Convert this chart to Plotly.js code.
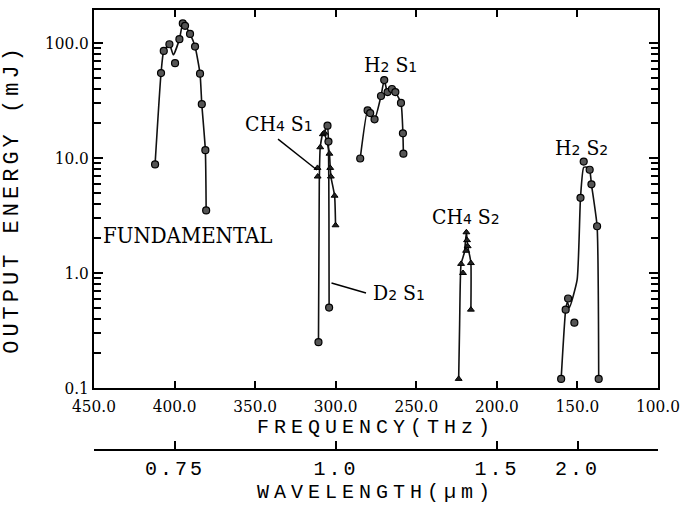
<!DOCTYPE html>
<html><head><meta charset="utf-8">
<script src="https://cdn.plot.ly/plotly-3.0.1.min.js"></script>
<style>
body{margin:0;background:#fff}
.xtitle,.x2title{letter-spacing:5px}
.ytitle{letter-spacing:4px}
.x2tick text{letter-spacing:3px}
</style></head>
<body><div id="plot" style="width:680px;height:507px"></div>
<script>
// ---- data (frequency in THz, output energy in mJ) ----
const fundCurveF = [412.1, 408.4, 406.7, 403.2, 400.8, 397.0, 394.9, 393.5, 390.4, 387.3, 384.2, 383.1, 380.9, 380.4];
const fundCurveE = [8.8, 54.8, 85.3, 97.5, 79, 108, 148, 141, 120, 93.1, 54.1, 29.4, 11.7, 3.5];
const fundDotF = [412.1, 408.4, 406.7, 403.2, 399.7, 397.0, 394.9, 393.5, 390.4, 387.3, 384.2, 383.1, 380.9, 380.4];
const fundDotE = [8.8, 54.8, 85.3, 97.5, 66.8, 108, 148, 141, 120, 93.1, 54.1, 29.4, 11.7, 3.5];

const ch4s1CurveF = [310.7, 310.2, 309.6, 308.0, 306.5, 305.0, 303.9, 303.4, 303.0, 300.7, 300.1];
const ch4s1CurveE = [0.25, 6, 12.4, 16.1, 15.5, 13, 10.9, 8.2, 6.9, 4.7, 2.6];
const ch4s1TriF = [311.3, 311.2, 309.6, 308.0, 307.0, 303.9, 303.4, 303.0, 300.7, 300.1];
const ch4s1TriE = [8.2, 6.9, 12.4, 16.1, 16.6, 10.9, 8.2, 6.9, 4.7, 2.6];
const ch4s1DotF = [310.7];
const ch4s1DotE = [0.25];

const d2s1CurveF = [307.5, 305.1, 304.5, 304.2, 304.1];
const d2s1CurveE = [16, 19.1, 13.9, 3, 0.5];
const d2s1DotF = [305.1, 304.5, 304.1];
const d2s1DotE = [19.1, 13.9, 0.5];

const h2s1F = [284.8, 280.2, 278.6, 275.9, 271.9, 269.9, 267.8, 265.1, 263.0, 259.5, 258.3, 258.0];
const h2s1E = [9.9, 25.9, 24.6, 21.7, 34.6, 47.6, 37.4, 39.8, 37.4, 30.1, 16.4, 10.9];

const ch4s2CurveF = [223.7, 223.1, 222.2, 220.2, 218.9, 218.1, 216.8, 216.1, 216.1];
const ch4s2CurveE = [0.12, 0.36, 1.2, 1.5, 2.26, 1.71, 1.4, 1.22, 0.48];
const ch4s2TriF = [218.9, 218.5, 218.1, 219.1, 222.2, 221.0, 216.1, 216.1, 223.7];
const ch4s2TriE = [2.26, 1.93, 1.71, 1.56, 1.2, 1.0, 1.22, 0.48, 0.12];

const h2s2CurveF = [160.1, 157.3, 156.2, 155.0, 150.2, 148.1, 146.1, 144.0, 142.4, 141.3, 137.8, 136.8];
const h2s2CurveE = [0.12, 0.48, 0.56, 0.5, 0.87, 4.5, 8.3, 8.3, 7.9, 5.9, 2.55, 0.12];
const h2s2DotF = [146.1, 142.4, 141.3, 148.1, 137.8, 155.8, 157.3, 151.9, 160.1, 136.8];
const h2s2DotE = [9.3, 7.9, 5.9, 4.5, 2.55, 0.60, 0.48, 0.37, 0.12, 0.12];

// ---- axis ticks ----
const freqTicks = [450, 400, 350, 300, 250, 200, 150, 100];
const freqTickText = ['450.0', '400.0', '350.0', '300.0', '250.0', '200.0', '150.0', '100.0'];
const energyTicks = [0.1, 1, 10, 100];
const energyTickText = ['0.1', '1.0', '10.0', '100.0'];
const energyMinor = [0.2,0.3,0.4,0.5,0.6,0.7,0.8,0.9,2,3,4,5,6,7,8,9,20,30,40,50,60,70,80,90];
const wavelengthTicks = [0.75, 1.0, 1.5, 2.0];
const wavelengthTickText = ['0.75', '1.0', '1.5', '2.0'];
const C_LIGHT = 299.792458; // THz·µm

const labelFont = 'DejaVu Serif Condensed, DejaVu Serif, serif';
const monoFont = 'Liberation Mono, DejaVu Sans Mono, monospace';

function curve(f, e) {
  return {x: f, y: e, type: 'scatter', mode: 'lines',
          line: {color: '#111', width: 1.6, shape: 'spline', smoothing: 0.5},
          hoverinfo: 'skip', showlegend: false};
}
function dots(f, e) {
  return {x: f, y: e, type: 'scatter', mode: 'markers',
          marker: {symbol: 'circle', size: 7, color: '#555', line: {color: '#000', width: 1.2}},
          showlegend: false};
}
function tris(f, e) {
  return {x: f, y: e, type: 'scatter', mode: 'markers',
          marker: {symbol: 'triangle-up', size: 6, color: '#222', line: {color: '#000', width: 1}},
          showlegend: false};
}

const wlTickVals = [450].concat(wavelengthTicks.map(w => C_LIGHT / w)).concat([100]);
const wlTickText = [''].concat(wavelengthTickText).concat(['']);

const traces = [
  curve(fundCurveF, fundCurveE), dots(fundDotF, fundDotE),
  curve(ch4s1CurveF, ch4s1CurveE), tris(ch4s1TriF, ch4s1TriE), dots(ch4s1DotF, ch4s1DotE),
  curve(d2s1CurveF, d2s1CurveE), dots(d2s1DotF, d2s1DotE),
  curve(h2s1F, h2s1E), dots(h2s1F, h2s1E),
  curve(ch4s2CurveF, ch4s2CurveE), tris(ch4s2TriF, ch4s2TriE),
  curve(h2s2CurveF, h2s2CurveE), dots(h2s2DotF, h2s2DotE),
  {x: [], y: [], xaxis: 'x2', yaxis: 'y', type: 'scatter', showlegend: false}
];

const sub = s => '<span style="font-family:DejaVu Sans;font-size:14px">' + s + '</span>';
function lab(text, x, ly, size) {
  return {text: text, x: x, y: ly, xref: 'x', yref: 'y', showarrow: false,
          xanchor: 'center', yanchor: 'middle', font: {family: labelFont, size: size || 21, color: '#000'}};
}
const annotations = [
  lab('FUNDAMENTAL', 392, 0.33, 22),
  lab('CH' + sub('4') + ' S' + sub('1'), 335.2, 1.296),
  lab('H' + sub('2') + ' S' + sub('1'), 266.3, 1.809),
  lab('CH' + sub('4') + ' S' + sub('2'), 219.1, 0.487),
  lab('H' + sub('2') + ' S' + sub('2'), 147.4, 1.087),
  lab('D' + sub('2') + ' S' + sub('1'), 260.7, -0.174)
];
// leader lines (shape y given in data units on the log axis)
const shapes = [
  {type: 'line', xref: 'x', yref: 'y', x0: 335.8, y0: 14.6, x1: 311.6, y1: 7.87, line: {color: '#000', width: 1.4}},
  {type: 'line', xref: 'x', yref: 'y', x0: 302.6, y0: 0.818, x1: 281.2, y1: 0.67, line: {color: '#000', width: 1.4}}
];

const layout = {
  width: 680, height: 507,
  margin: {l: 94, r: 22, t: 10, b: 2},
  paper_bgcolor: '#fff', plot_bgcolor: 'rgba(0,0,0,0)',
  showlegend: false,
  font: {family: labelFont, color: '#000'},
  xaxis: {
    range: [450, 100], anchor: 'y', showgrid: false, zeroline: false,
    showline: true, linecolor: '#000', linewidth: 1.6, mirror: 'ticks',
    ticks: 'inside', ticklen: 7, tickwidth: 2, tickcolor: '#000',
    tickmode: 'array', tickvals: freqTicks, ticktext: freqTickText,
    tickfont: {family: labelFont, size: 17, color: '#000'}, ticklabelstandoff: 2,
    title: {text: 'FREQUENCY(THz)', font: {family: monoFont, size: 20, color: '#000'}, standoff: 0}
  },
  xaxis2: {
    range: [450, 100], overlaying: 'x', anchor: 'free', position: 0.1111, side: 'bottom',
    showgrid: false, zeroline: false,
    showline: true, linecolor: '#000', linewidth: 1.6,
    ticks: 'inside', ticklen: 8, tickwidth: 2, tickcolor: '#000',
    tickmode: 'array', tickvals: wlTickVals, ticktext: wlTickText,
    tickfont: {family: monoFont, size: 20, color: '#000'},
    title: {text: 'WAVELENGTH(µm)', font: {family: monoFont, size: 20, color: '#000'}, standoff: 0}
  },
  yaxis: {
    type: 'log', range: [-1, 2.287], domain: [0.2364, 1],
    showgrid: false, zeroline: false,
    showline: true, linecolor: '#000', linewidth: 1.6, mirror: 'ticks',
    ticks: 'inside', ticklen: 9, tickwidth: 2, tickcolor: '#000',
    tickmode: 'array', tickvals: energyTicks, ticktext: energyTickText,
    tickfont: {family: labelFont, size: 17, color: '#000'},
    minor: {tickmode: 'array', tickvals: energyMinor, ticks: 'inside', ticklen: 7, tickwidth: 2, tickcolor: '#000', showgrid: false},
    title: {text: 'OUTPUT ENERGY (mJ)', font: {family: monoFont, size: 22, color: '#000'}, standoff: 20}
  },
  annotations: annotations,
  shapes: shapes
};

Plotly.newPlot('plot', traces, layout, {displayModeBar: false});
</script></body></html>
